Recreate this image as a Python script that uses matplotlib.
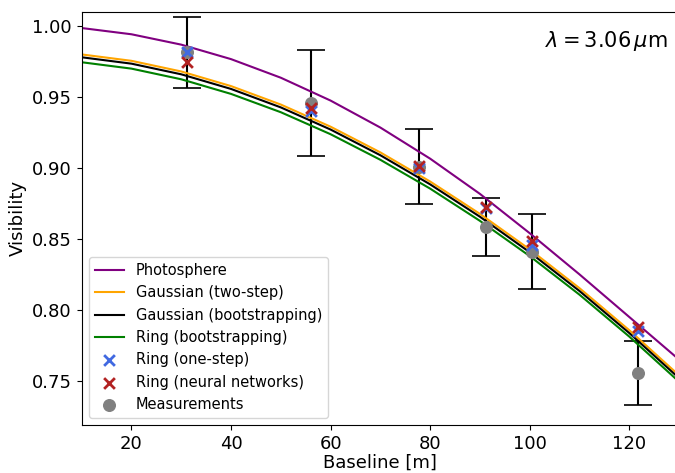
import matplotlib
matplotlib.use('agg')
import matplotlib.pyplot as plt

# model curves (baseline in m)
curve_b = [10, 20, 30, 40, 50, 60, 70, 80, 90, 100, 110, 120, 130]
photosphere = [0.9986, 0.9942, 0.9869, 0.9767, 0.9636, 0.9475, 0.9285, 0.9066, 0.8818, 0.8541, 0.8251, 0.7951, 0.7651]
gauss_two_step = [0.980, 0.9755, 0.968, 0.9577, 0.9447, 0.9291, 0.911, 0.8905, 0.8677, 0.8427, 0.8154, 0.7858, 0.754]
gauss_boot = [0.978, 0.9735, 0.966, 0.9557, 0.9427, 0.9271, 0.909, 0.8885, 0.8657, 0.8407, 0.8134, 0.7838, 0.752]
ring_boot = [0.9745, 0.970, 0.9625, 0.9522, 0.9393, 0.9238, 0.9058, 0.8855, 0.8628, 0.838, 0.8108, 0.7813, 0.7495]

# measured points
baselines = [31.2, 56.1, 77.8, 91.2, 100.5, 121.7]
vis_meas = [0.9816, 0.9458, 0.9010, 0.8585, 0.8411, 0.7557]
vis_err = [0.0250, 0.0373, 0.0262, 0.0206, 0.0265, 0.0226]
ring_one_step = [0.982, 0.940, 0.900, 0.872, 0.846, 0.785]
ring_nn = [0.975, 0.942, 0.9016, 0.8723, 0.8486, 0.7882]

fig = plt.figure(figsize=(6.75, 4.73), dpi=100)
ax = fig.add_axes([81.7 / 675, 48 / 473, (679 - 81.7) / 675, (425 - 11.7) / 473])

ax.plot(curve_b, photosphere, color='purple', lw=1.5, label='Photosphere')
ax.plot(curve_b, gauss_two_step, color='orange', lw=1.5, label='Gaussian (two-step)')
ax.plot(curve_b, gauss_boot, color='black', lw=1.5, label='Gaussian (bootstrapping)')
ax.plot(curve_b, ring_boot, color='green', lw=1.5, label='Ring (bootstrapping)')

ax.errorbar(baselines, vis_meas, yerr=vis_err, fmt='none', ecolor='k', elinewidth=1.5,
            capsize=10, capthick=1.2, zorder=1)
ax.scatter(baselines, vis_meas, s=70, color='grey', zorder=2, label='Measurements')
ax.scatter(baselines, ring_one_step, s=60, marker='x', color='royalblue', linewidths=2,
           zorder=3, label='Ring (one-step)')
ax.scatter(baselines, ring_nn, s=60, marker='x', color='firebrick', linewidths=2,
           zorder=4, label='Ring (neural networks)')

ax.set_xlim(10, 130)
ax.set_ylim(0.719, 1.0101)
ax.set_xticks([20, 40, 60, 80, 100, 120])
ax.set_yticks([0.75, 0.80, 0.85, 0.90, 0.95, 1.00])
ax.tick_params(labelsize=13)
ax.set_xlabel('Baseline [m]', fontsize=13, labelpad=1)
ax.set_ylabel('Visibility', fontsize=13)

ax.text(0.98, 0.93, r'$\lambda = 3.06\,\mu$m', transform=ax.transAxes, fontsize=15,
        ha='right', va='center')

h, l = ax.get_legend_handles_labels()
order = ['Photosphere', 'Gaussian (two-step)', 'Gaussian (bootstrapping)', 'Ring (bootstrapping)',
         'Ring (one-step)', 'Ring (neural networks)', 'Measurements']
hd = dict(zip(l, h))
ax.legend([hd[k] for k in order], order, loc='lower left', fontsize=10.5)

plt.savefig('out.png', dpi=100)
